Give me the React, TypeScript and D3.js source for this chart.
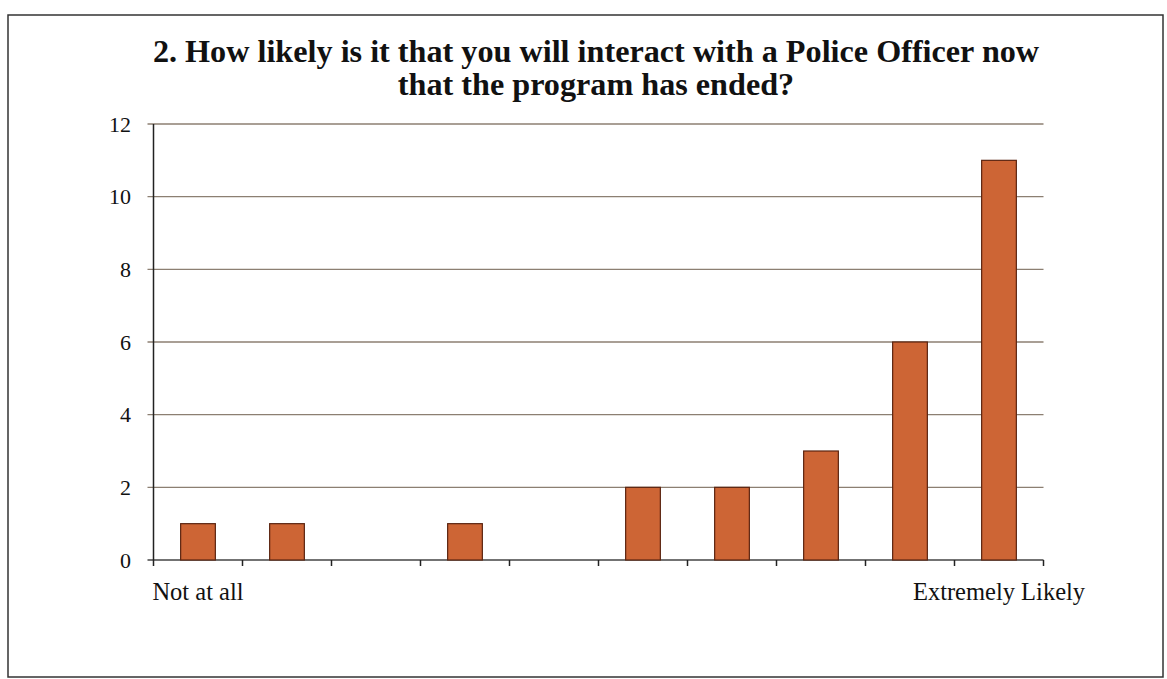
import React from "react";
import * as d3 from "d3";

const categories = ["1", "2", "3", "4", "5", "6", "7", "8", "9", "10"];
const values = [1, 1, 0, 1, 0, 2, 2, 3, 6, 11];
const categoryLabels = ["Not at all", "", "", "", "", "", "", "", "", "Extremely Likely"];
const yTicks = [0, 2, 4, 6, 8, 10, 12];
const titleLines = [
  "2. How likely is it that you will interact with a Police Officer now",
  "that the program has ended?",
];

const W = 1167;
const H = 679;
const left = 153.5;
const right = 1043.5;
const top = 124;
const bottom = 560;

export default function App() {
  const x = d3.scaleBand<string>().domain(categories).range([left, right]).paddingInner(0).paddingOuter(0);
  const y = d3.scaleLinear().domain([0, 12]).range([bottom, top]);
  const barW = x.bandwidth() * 0.39;
  const font = "'Liberation Serif', 'Times New Roman', serif";
  return (
    <svg width={W} height={H} style={{ position: "absolute", left: 0, top: 0, background: "#fff" }}>
      <rect x={0} y={0} width={W} height={H} fill="#fff" />
      <rect x={8} y={15} width={1155} height={662} fill="none" stroke="#333" strokeWidth={1.5} />
      {titleLines.map((t, i) => (
        <text key={i} x={596} y={62 + i * 33} textAnchor="middle" fontFamily={font} fontWeight="bold" fontSize={32.2} fill="#111">
          {t}
        </text>
      ))}
      {yTicks.map((t) => (
        <g key={t}>
          <line x1={left - 6} x2={right} y1={y(t)} y2={y(t)} stroke={t === 0 ? "#444" : "#8c7f72"} strokeWidth={t === 0 ? 1.5 : 1.3} />
          <text x={131} y={y(t)} dy="0.35em" textAnchor="end" fontFamily={font} fontSize={22} fill="#111">
            {t}
          </text>
        </g>
      ))}
      <line x1={left} x2={left} y1={top} y2={bottom + 6} stroke="#222" strokeWidth={1.5} />
      {categories.map((c) => (
        <line key={"t" + c} x1={(x(c) as number) + x.bandwidth()} x2={(x(c) as number) + x.bandwidth()} y1={bottom} y2={bottom + 6} stroke="#222" strokeWidth={1.5} />
      ))}
      {categories.map((c, i) =>
        values[i] > 0 ? (
          <rect
            key={"b" + c}
            x={(x(c) as number) + (x.bandwidth() - barW) / 2}
            y={y(values[i])}
            width={barW}
            height={bottom - y(values[i])}
            fill="#cd6535"
            stroke="#5a2410"
            strokeWidth={1.2}
          />
        ) : null
      )}
      {categories.map((c, i) =>
        categoryLabels[i] ? (
          <text key={"l" + c} x={(x(c) as number) + x.bandwidth() / 2} y={600} textAnchor="middle" fontFamily={font} fontSize={24.5} fill="#111">
            {categoryLabels[i]}
          </text>
        ) : null
      )}
    </svg>
  );
}
